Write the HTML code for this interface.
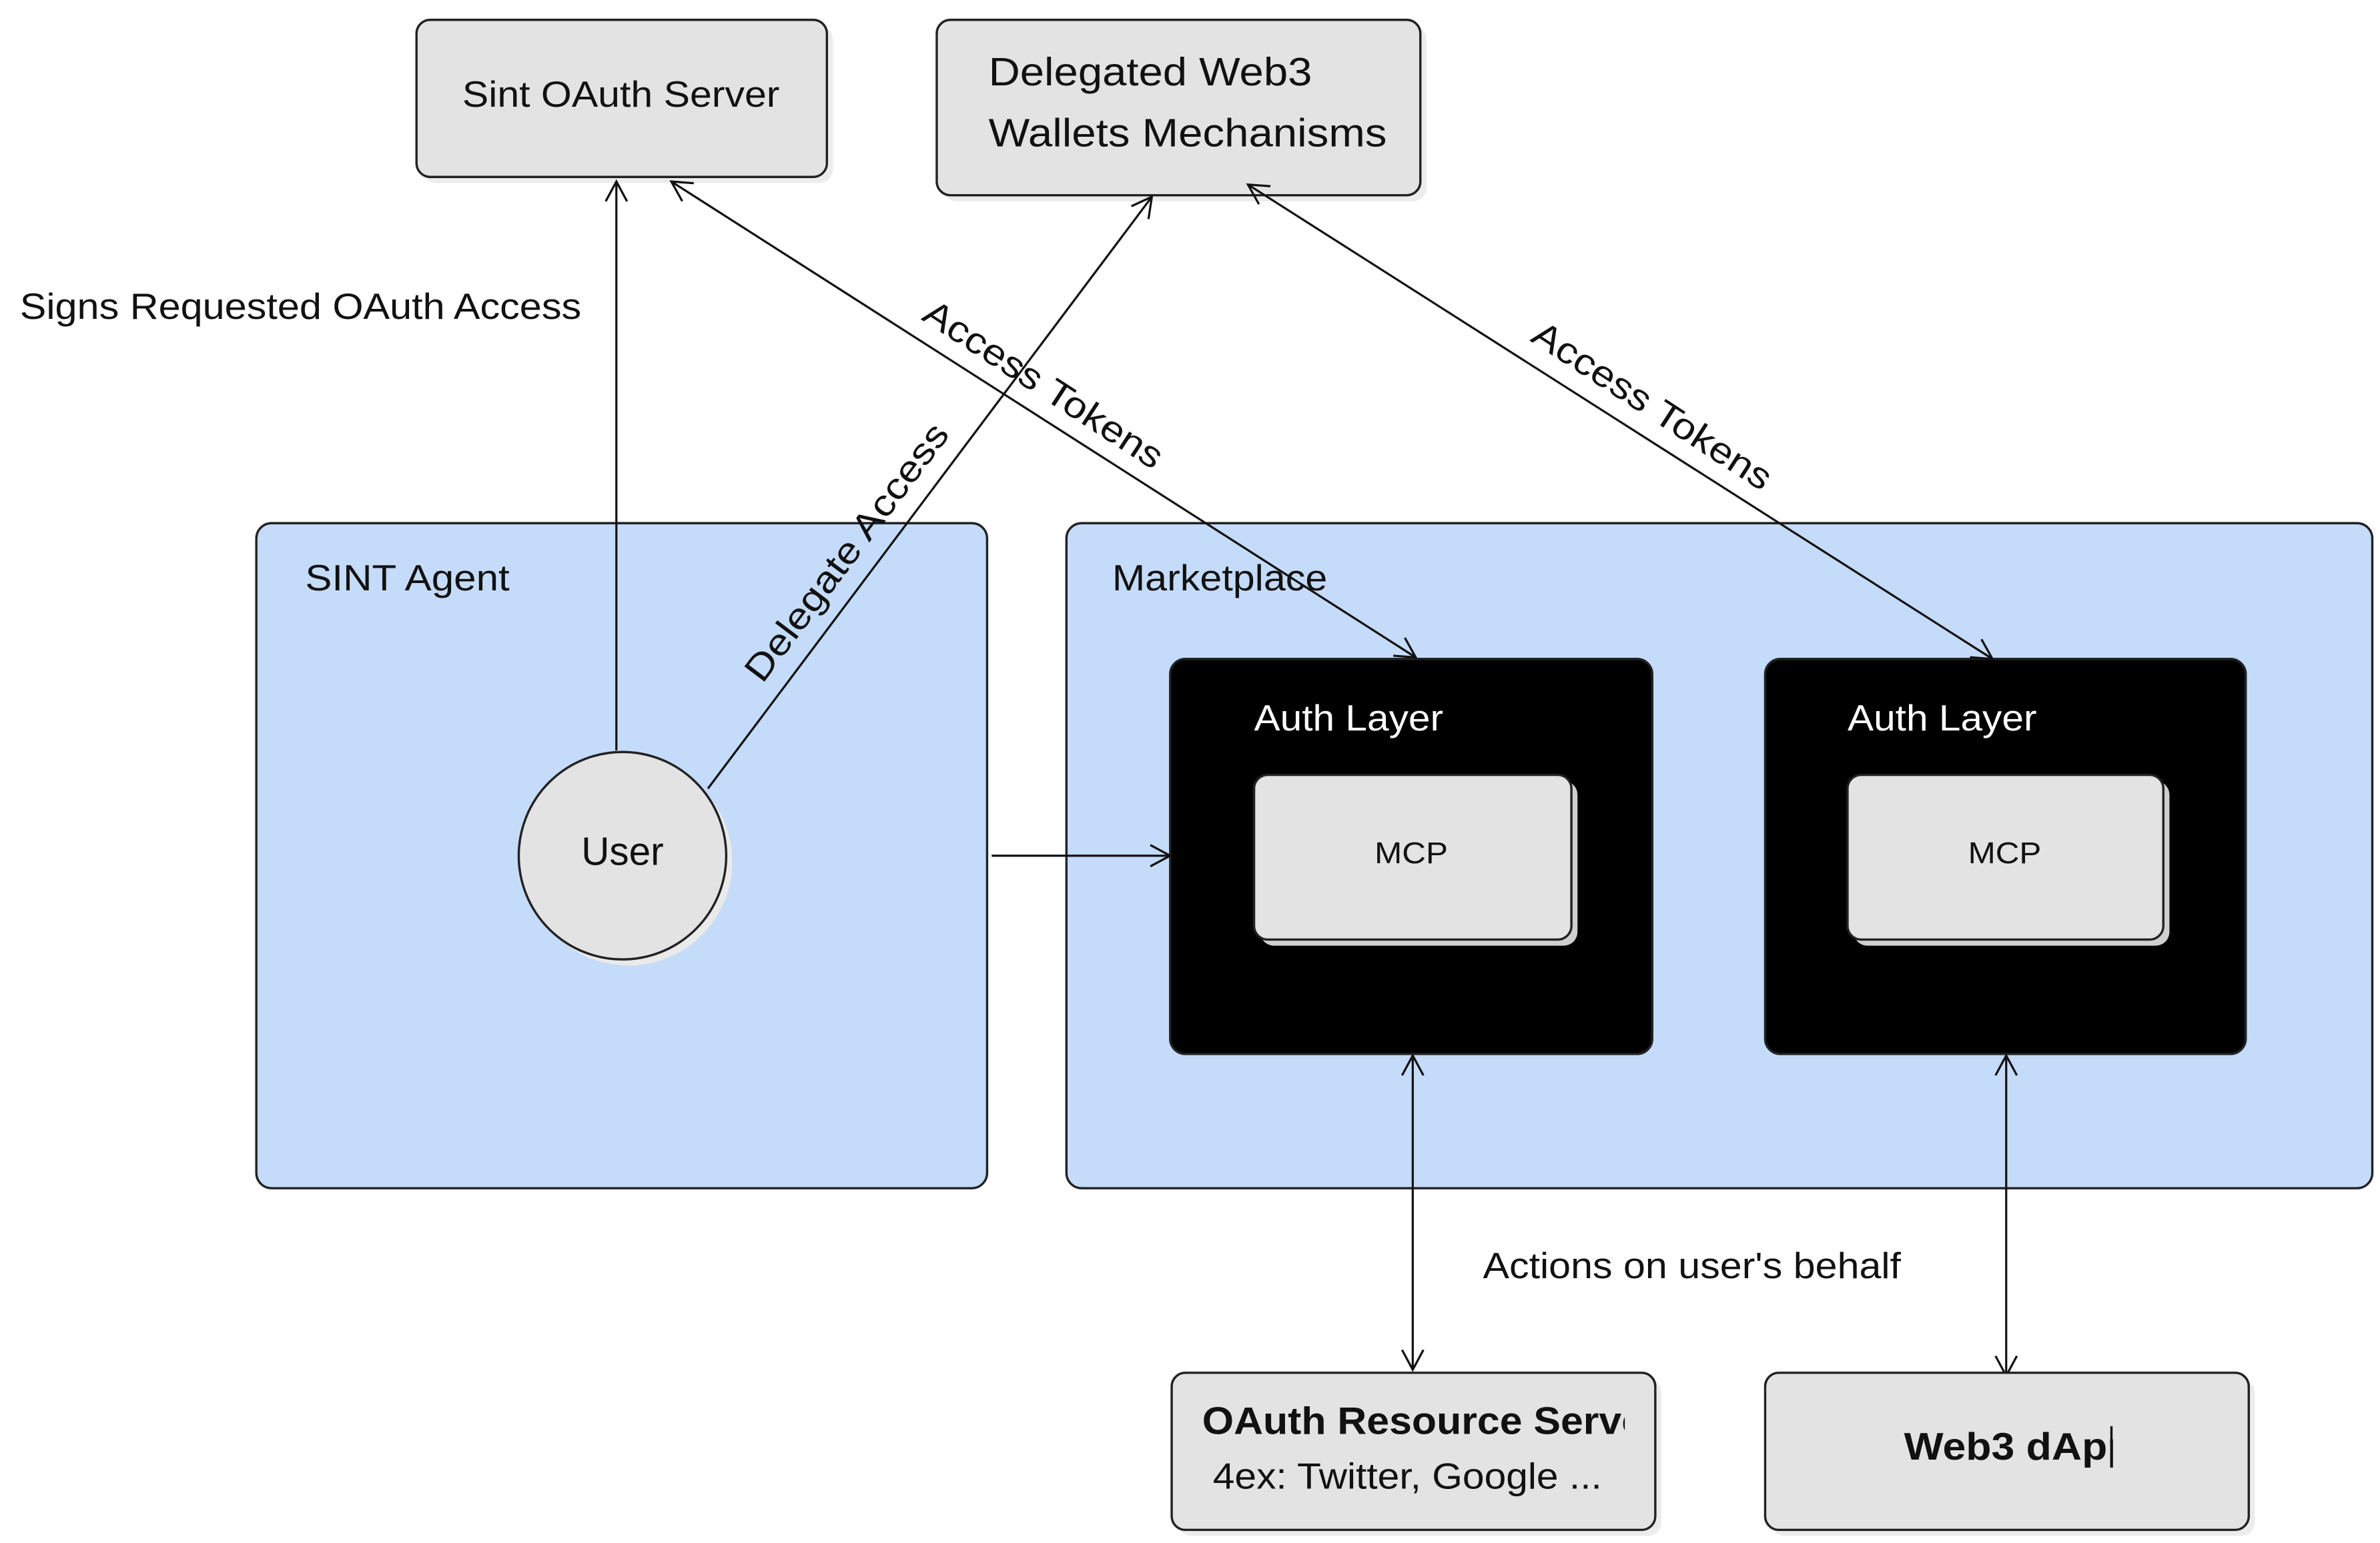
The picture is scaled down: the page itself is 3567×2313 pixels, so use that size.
<!DOCTYPE html>
<html><head><meta charset="utf-8"><style>
html,body{margin:0;padding:0;background:#fff;}
svg{display:block;}
text{font-family:"Liberation Sans",sans-serif;fill:#111;}
</style></head><body>
<svg width="3567" height="2313" viewBox="0 0 1560 1011.6" xmlns="http://www.w3.org/2000/svg">
<defs>
<marker id="a" markerWidth="16" markerHeight="16" refX="14" refY="8" orient="auto-start-reverse" markerUnits="userSpaceOnUse">
<path d="M1,1 L14,8 L1,15" fill="none" stroke="#111" stroke-width="1.4"/>
</marker>
</defs>
<rect width="1560" height="1011.6" fill="#fff"/>
<rect x="277" y="17" width="269" height="103" rx="9" fill="#ececec"/>
<rect x="273" y="13" width="269" height="103" rx="9" fill="#e3e3e3" stroke="#222" stroke-width="1.5"/>
<text x="303" y="70" font-size="24" textLength="208" lengthAdjust="spacingAndGlyphs">Sint OAuth Server</text>
<rect x="618" y="17" width="317" height="115" rx="9" fill="#ececec"/>
<rect x="614" y="13" width="317" height="115" rx="9" fill="#e3e3e3" stroke="#222" stroke-width="1.5"/>
<text x="648" y="56" font-size="26" textLength="212" lengthAdjust="spacingAndGlyphs">Delegated Web3</text>
<text x="648" y="96" font-size="26" textLength="261" lengthAdjust="spacingAndGlyphs">Wallets Mechanisms</text>
<text x="13" y="209" font-size="24" textLength="368" lengthAdjust="spacingAndGlyphs">Signs Requested OAuth Access</text>
<rect x="168" y="343" width="479" height="436" rx="10" fill="#c5dbfa" stroke="#222" stroke-width="1.5"/>
<text x="200" y="387" font-size="24" textLength="134" lengthAdjust="spacingAndGlyphs">SINT Agent</text>
<rect x="699" y="343" width="856" height="436" rx="10" fill="#c5dbfa" stroke="#222" stroke-width="1.5"/>
<text x="729" y="387" font-size="24" textLength="141" lengthAdjust="spacingAndGlyphs">Marketplace</text>
<rect x="767" y="432" width="316" height="259" rx="10" fill="#000" stroke="#222" stroke-width="1.5"/>
<text x="822" y="479" font-size="24" style="fill:#fff" textLength="124" lengthAdjust="spacingAndGlyphs">Auth Layer</text>
<rect x="826" y="512" width="208" height="108" rx="9" fill="#cfcfcf"/>
<rect x="822" y="508" width="208" height="108" rx="9" fill="#e3e3e3" stroke="#222" stroke-width="1.5"/>
<text x="901" y="566" font-size="20" textLength="48" lengthAdjust="spacingAndGlyphs">MCP</text>
<rect x="1157" y="432" width="315" height="259" rx="10" fill="#000" stroke="#222" stroke-width="1.5"/>
<text x="1211" y="479" font-size="24" style="fill:#fff" textLength="124" lengthAdjust="spacingAndGlyphs">Auth Layer</text>
<rect x="1215" y="512" width="207" height="108" rx="9" fill="#cfcfcf"/>
<rect x="1211" y="508" width="207" height="108" rx="9" fill="#e3e3e3" stroke="#222" stroke-width="1.5"/>
<text x="1290" y="566" font-size="20" textLength="48" lengthAdjust="spacingAndGlyphs">MCP</text>
<circle cx="412" cy="565" r="68" fill="#eaeaea"/>
<circle cx="408" cy="561" r="68" fill="#e3e3e3" stroke="#222" stroke-width="1.5"/>
<text x="381" y="567" font-size="26" textLength="54" lengthAdjust="spacingAndGlyphs">User</text>
<g stroke="#111" stroke-width="1.4" fill="none">
<line x1="404" y1="492" x2="404" y2="119" marker-end="url(#a)"/>
<line x1="464" y1="517" x2="755" y2="129" marker-end="url(#a)"/>
<line x1="440" y1="119" x2="928" y2="431" marker-start="url(#a)" marker-end="url(#a)"/>
<line x1="818" y1="121" x2="1306" y2="432" marker-start="url(#a)" marker-end="url(#a)"/>
<line x1="650" y1="561" x2="767" y2="561" marker-end="url(#a)"/>
<line x1="926" y1="692" x2="926" y2="898" marker-start="url(#a)" marker-end="url(#a)"/>
<line x1="1315" y1="692" x2="1315" y2="902" marker-start="url(#a)" marker-end="url(#a)"/>
</g>
<text x="555" y="370" font-size="24" text-anchor="middle" transform="rotate(-53 555 362)" textLength="205" lengthAdjust="spacingAndGlyphs">Delegate Access</text>
<text x="684" y="260" font-size="24" text-anchor="middle" transform="rotate(33 684 252)" textLength="182" lengthAdjust="spacingAndGlyphs">Access Tokens</text>
<text x="1083" y="274" font-size="24" text-anchor="middle" transform="rotate(33 1083 266)" textLength="182" lengthAdjust="spacingAndGlyphs">Access Tokens</text>
<text x="972" y="838" font-size="24" textLength="274" lengthAdjust="spacingAndGlyphs">Actions on user's behalf</text>
<rect x="772" y="904" width="317" height="103" rx="9" fill="#ececec"/>
<rect x="768" y="900" width="317" height="103" rx="9" fill="#e3e3e3" stroke="#222" stroke-width="1.5"/>
<svg x="768" y="900" width="297" height="103">
<text x="20" y="40" font-size="25" textLength="300" lengthAdjust="spacingAndGlyphs" style="font-weight:600">OAuth Resource Server</text>
</svg>
<text x="795" y="976" font-size="24" textLength="255" lengthAdjust="spacingAndGlyphs">4ex: Twitter, Google ...</text>
<rect x="1161" y="904" width="317" height="103" rx="9" fill="#ececec"/>
<rect x="1157" y="900" width="317" height="103" rx="9" fill="#e3e3e3" stroke="#222" stroke-width="1.5"/>
<svg x="1157" y="900" width="228" height="103">
<text x="91" y="57" font-size="25" font-weight="bold" textLength="150" lengthAdjust="spacingAndGlyphs">Web3 dApp</text>
</svg>
<line x1="1384" y1="935" x2="1384" y2="962" stroke="#111" stroke-width="1.5"/>
</svg>
</body></html>
